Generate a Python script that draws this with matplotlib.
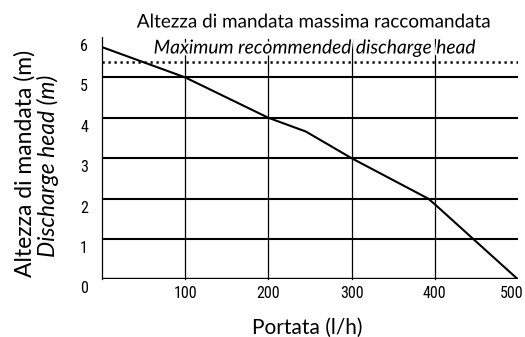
import matplotlib
matplotlib.use("Agg")
import matplotlib.pyplot as plt
import matplotlib.patheffects as pe
from matplotlib.transforms import ScaledTranslation

# Pump performance curve: flow rate (l/h) vs discharge head (m)
flow = [0, 100, 200, 245, 300, 392, 400, 500]
head = [5.75, 5.0, 4.0, 3.66, 3.0, 2.0, 1.86, 0.0]

max_head = 5.38
x_ticks = [100, 200, 300, 400, 500]
y_ticks = [0, 1, 2, 3, 4, 5, 6]

title_it = "Altezza di mandata massima raccomandata"
title_en = "Maximum recommended discharge head"
xlabel = "Portata (l/h)"
ylabel_it = "Altezza di mandata (m)"
ylabel_en = "Discharge head (m)"

W, H = 525, 337
fig = plt.figure(figsize=(W / 100, H / 100), dpi=100)
ax = fig.add_axes([102 / W, (H - 279.4) / H, 416 / W, 242.4 / H])
ax.set_xlim(0, 500)
ax.set_ylim(0, 5.9)

# grid: thick horizontal lines, thin vertical lines
for v in y_ticks[1:6]:
    ax.plot([0, 500], [v, v], color="black", lw=1.5, solid_capstyle="butt", zorder=2)
ax.plot([0, 500], [0, 0], color="black", lw=1.7, solid_capstyle="butt", zorder=2)
for v in x_ticks[:-1]:
    ax.plot([v, v], [0, 5.95], color="black", lw=0.9, clip_on=False, zorder=1)

# recommended maximum head
ax.plot([0, 500], [max_head, max_head], color="black", lw=1.8,
        linestyle=(0, (0.9, 1.5)), zorder=2)

# performance curve
ax.plot(flow, head, color="black", lw=1.5, zorder=3)

for s in ["top", "right", "bottom"]:
    ax.spines[s].set_visible(False)
ax.spines["left"].set_linewidth(0.9)

num_font = ["Liberation Sans Narrow", "DejaVu Sans Condensed", "Roboto Condensed",
            "Roboto"]
ax.set_xticks(x_ticks)
ax.set_xticklabels([str(t) for t in x_ticks], family=num_font, fontsize=11.5)
ax.set_yticks(y_ticks)
ax.set_yticklabels([str(t) for t in y_ticks], family=num_font, fontsize=11.5)
ax.tick_params(axis="both", length=0)
ax.tick_params(axis="x", pad=5)
ax.tick_params(axis="y", pad=10)
shift = ScaledTranslation(0, -0.08, fig.dpi_scale_trans)
for lab in ax.get_yticklabels():
    lab.set_transform(lab.get_transform() + shift)
last = ax.get_xticklabels()[-1]
last.set_transform(last.get_transform() + ScaledTranslation(-0.06, 0, fig.dpi_scale_trans))

txt_font = ["Lato", "DejaVu Sans"]
halo = [pe.withStroke(linewidth=3, foreground="white")]
fig.text(314 / W, 1 - 22 / H, title_it, ha="center", va="center",
         family=txt_font, fontsize=13.6, path_effects=halo)
fig.text(314 / W, 1 - 48 / H, title_en, ha="center", va="center",
         family=txt_font, fontsize=13.8, style="italic", path_effects=halo, zorder=5)

fig.text(307 / W, 1 - 328 / H, xlabel, ha="center", va="center",
         family=txt_font, fontsize=15)
fig.text(25 / W, 1 - 163 / H, ylabel_it, ha="center", va="center",
         rotation=90, family=txt_font, fontsize=16.5)
fig.text(48 / W, 1 - 165.5 / H, ylabel_en, ha="center", va="center",
         rotation=90, family=txt_font, fontsize=16.5, style="italic")

fig.savefig("out.png", dpi=100)
